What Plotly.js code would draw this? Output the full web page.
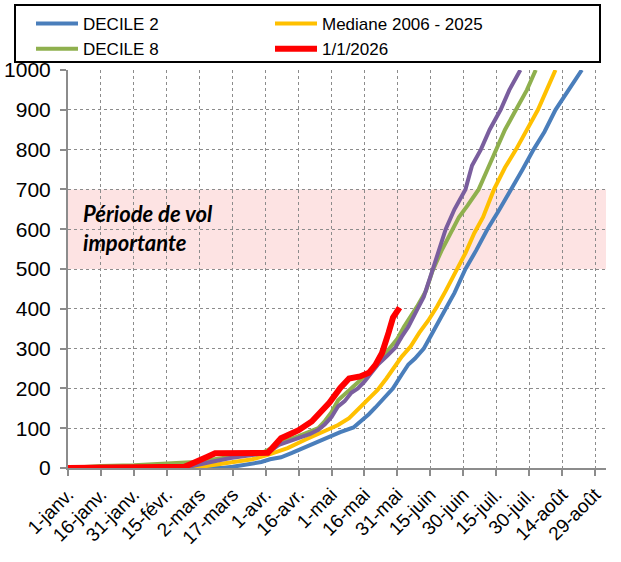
<!DOCTYPE html>
<html>
<head>
<meta charset="utf-8">
<script src="https://cdn.plot.ly/plotly-3.0.1.min.js"></script>
<style>
html,body{margin:0;padding:0;background:#ffffff;}
#chart{width:621px;height:562px;}
</style>
</head>
<body>
<div id="chart"></div>
<script>
// Axis ticks
const tickDates = ['2026-01-01','2026-01-16','2026-01-31','2026-02-15','2026-03-02','2026-03-17','2026-04-01','2026-04-16','2026-05-01','2026-05-16','2026-05-31','2026-06-15','2026-06-30','2026-07-15','2026-07-30','2026-08-14','2026-08-29'];
const tickLabels = ['1-janv.','16-janv.','31-janv.','15-févr.','2-mars','17-mars','1-avr.','16-avr.','1-mai','16-mai','31-mai','15-juin','30-juin','15-juil.','30-juil.','14-août','29-août'];

// DECILE 2
const decile2Dates = ['2026-01-01','2026-03-12','2026-03-17','2026-03-22','2026-03-30','2026-04-03','2026-04-08','2026-04-13','2026-04-18','2026-04-23','2026-04-29','2026-05-05','2026-05-11','2026-05-15','2026-05-18','2026-05-21','2026-05-25','2026-05-29','2026-06-02','2026-06-05','2026-06-08','2026-06-12','2026-06-15','2026-06-18','2026-06-22','2026-06-26','2026-07-01','2026-07-06','2026-07-11','2026-07-16','2026-07-22','2026-07-27','2026-08-01','2026-08-06','2026-08-11','2026-08-17','2026-08-23'];
const decile2Values = [0,0,3,8,15,22,27,38,50,62,78,90,102,120,135,152,175,200,235,260,275,300,330,362,400,440,500,548,600,645,700,750,800,845,900,950,1000];

// Mediane 2006 - 2025
const medianDates = ['2026-01-01','2026-02-28','2026-03-05','2026-03-12','2026-03-18','2026-03-26','2026-04-02','2026-04-07','2026-04-11','2026-04-19','2026-04-26','2026-05-01','2026-05-04','2026-05-09','2026-05-12','2026-05-15','2026-05-19','2026-05-22','2026-05-26','2026-05-30','2026-06-02','2026-06-06','2026-06-10','2026-06-14','2026-06-18','2026-06-22','2026-06-27','2026-07-01','2026-07-05','2026-07-09','2026-07-14','2026-07-19','2026-07-24','2026-07-29','2026-08-03','2026-08-07','2026-08-11'];
const medianValues = [0,0,5,10,15,22,33,42,50,71,88,100,108,125,141,160,180,196,225,259,280,305,340,370,405,445,500,540,590,630,700,755,800,850,900,950,1000];

// DECILE 8
const decile8Dates = ['2026-01-01','2026-01-07','2026-01-16','2026-01-31','2026-02-15','2026-02-22','2026-02-28','2026-03-04','2026-03-12','2026-03-22','2026-03-30','2026-04-02','2026-04-07','2026-04-11','2026-04-16','2026-04-21','2026-04-25','2026-04-28','2026-05-01','2026-05-04','2026-05-07','2026-05-10','2026-05-14','2026-05-18','2026-05-22','2026-05-27','2026-05-31','2026-06-03','2026-06-06','2026-06-09','2026-06-13','2026-06-16','2026-06-20','2026-06-25','2026-06-28','2026-07-02','2026-07-07','2026-07-11','2026-07-15','2026-07-19','2026-07-24','2026-07-29','2026-08-02'];
const decile8Values = [0,3,5,7,10,13,15,18,25,33,37,45,60,70,80,90,100,118,140,170,185,200,222,240,264,297,325,355,380,406,445,495,545,600,630,660,700,750,800,850,900,950,1000];

// Unlabelled purple series
const purpleDates = ['2026-01-01','2026-02-22','2026-02-25','2026-03-02','2026-03-07','2026-03-16','2026-03-26','2026-04-02','2026-04-07','2026-04-11','2026-04-16','2026-04-21','2026-04-25','2026-04-28','2026-05-01','2026-05-04','2026-05-07','2026-05-10','2026-05-13','2026-05-16','2026-05-19','2026-05-22','2026-05-26','2026-05-30','2026-06-02','2026-06-05','2026-06-09','2026-06-12','2026-06-15','2026-06-18','2026-06-22','2026-06-26','2026-07-01','2026-07-04','2026-07-08','2026-07-12','2026-07-17','2026-07-21','2026-07-26'];
const purpleValues = [0,0,3,8,15,25,33,38,58,65,75,85,96,110,128,155,168,189,200,217,238,259,280,302,330,355,398,430,480,530,600,650,700,760,800,850,900,950,1000];

// 1/1/2026
const currentDates = ['2026-01-01','2026-02-20','2026-02-23','2026-02-26','2026-03-02','2026-03-05','2026-03-09','2026-03-17','2026-04-02','2026-04-04','2026-04-08','2026-04-12','2026-04-16','2026-04-22','2026-04-26','2026-04-30','2026-05-05','2026-05-09','2026-05-14','2026-05-18','2026-05-21','2026-05-24','2026-05-27','2026-05-29','2026-06-01'];
const currentValues = [0,0,3,10,18,27,37,38,38,50,75,85,95,117,142,164,201,225,230,239,259,289,340,378,403];

const bandLow = 500, bandHigh = 700;
const bandText = 'Période de vol<br>importante';

const traces = [
  {x: decile2Dates, y: decile2Values, name: 'DECILE 2', type: 'scatter', mode: 'lines', line: {color: '#4A7EBB', width: 4}, legendrank: 1},
  {x: medianDates, y: medianValues, name: 'Mediane 2006 - 2025', type: 'scatter', mode: 'lines', line: {color: '#FFC000', width: 4}, legendrank: 2},
  {x: decile8Dates, y: decile8Values, name: 'DECILE 8', type: 'scatter', mode: 'lines', line: {color: '#8FB04E', width: 4}, legendrank: 3},
  {x: purpleDates, y: purpleValues, name: '', type: 'scatter', mode: 'lines', line: {color: '#7A5E9E', width: 4}, showlegend: false},
  {x: currentDates, y: currentValues, name: '1/1/2026', type: 'scatter', mode: 'lines', line: {color: '#FF0000', width: 6}, legendrank: 4}
];

const layout = {
  width: 621, height: 562,
  margin: {l: 68, r: 15, t: 70, b: 94},
  paper_bgcolor: '#ffffff', plot_bgcolor: '#ffffff',
  font: {family: '"Liberation Sans", Arial, sans-serif', color: '#000000'},
  showlegend: true,
  legend: {
    orientation: 'h', xref: 'container', yref: 'container',
    x: 31/621, y: 1 - 6/562, xanchor: 'left', yanchor: 'top',
    itemwidth: 42,
    entrywidth: 182, entrywidthmode: 'pixels',
    font: {size: 17, color: '#000000'},
    bgcolor: 'rgba(0,0,0,0)', borderwidth: 0, traceorder: 'normal'
  },
  xaxis: {
    type: 'date', range: ['2026-01-01', '2026-09-03'],
    tickmode: 'array', tickvals: tickDates, ticktext: tickLabels,
    tickangle: -45, tickfont: {size: 19, color: '#000000'},
    ticks: 'outside', ticklen: 6, tickcolor: '#8c8c8c', tickwidth: 2,
    showline: true, linecolor: '#8c8c8c', linewidth: 2,
    showgrid: true, gridcolor: '#8c8c8c', griddash: 'dot', gridwidth: 1,
    zeroline: false, fixedrange: true
  },
  yaxis: {
    range: [0, 1000], tickmode: 'linear', tick0: 0, dtick: 100,
    tickfont: {size: 21, color: '#000000'},
    ticks: 'outside', ticklen: 6, tickcolor: '#8c8c8c', tickwidth: 2,
    showline: true, linecolor: '#8c8c8c', linewidth: 2,
    showgrid: true, gridcolor: '#8c8c8c', griddash: 'dot', gridwidth: 1,
    zeroline: false, fixedrange: true, ticklabelstandoff: 5
  },
  shapes: [
    {type: 'rect', xref: 'paper', yref: 'y', x0: 0, x1: 1, y0: bandLow, y1: bandHigh,
     fillcolor: '#FDE3E3', line: {width: 0}, layer: 'below'},
    {type: 'rect', xref: 'paper', yref: 'paper', x0: (15-68)/538, x1: (600-68)/538,
     y0: (468-62)/398, y1: (468-5)/398, line: {color: '#000000', width: 2}, fillcolor: 'rgba(0,0,0,0)'}
  ],
  annotations: [
    {text: bandText, xref: 'paper', yref: 'y', x: (81-68)/538, y: 602, xanchor: 'left', yanchor: 'middle',
     align: 'left', showarrow: false,
     font: {family: 'Lato, "Open Sans", sans-serif', size: 22, weight: 'bold', style: 'italic', color: '#000000'}}
  ]
};

Plotly.newPlot('chart', traces, layout, {displayModeBar: false, staticPlot: true});
</script>
</body>
</html>
